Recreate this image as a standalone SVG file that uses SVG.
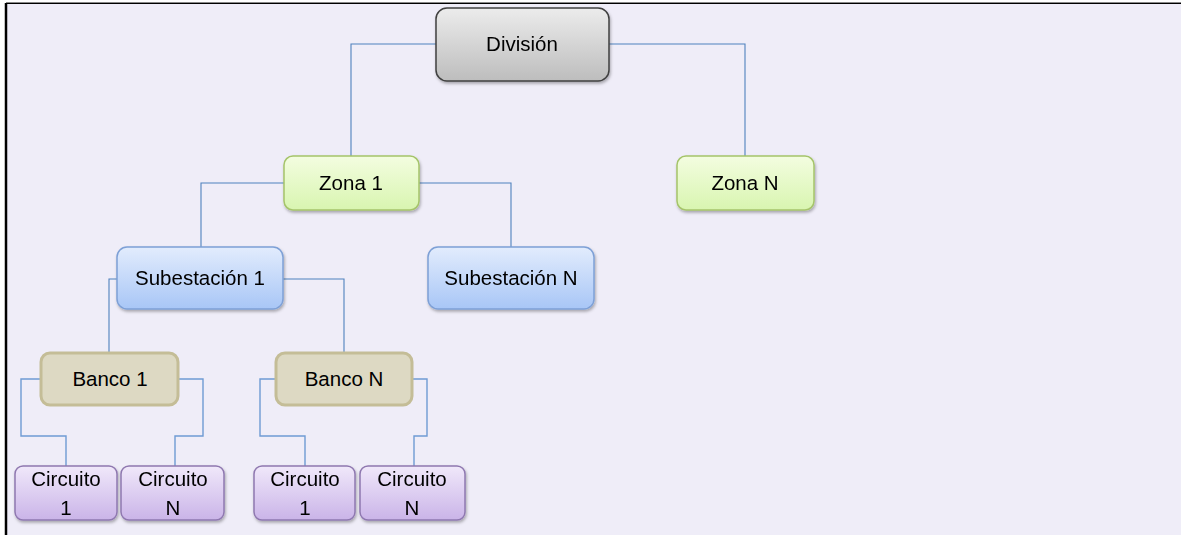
<svg xmlns="http://www.w3.org/2000/svg" width="1181" height="535" viewBox="0 0 1181 535">
  <defs>
    <linearGradient id="gGray" x1="0" y1="0" x2="0" y2="1">
      <stop offset="0" stop-color="#ececec"/>
      <stop offset="1" stop-color="#bdbdbd"/>
    </linearGradient>
    <linearGradient id="gGreen" x1="0" y1="0" x2="0" y2="1">
      <stop offset="0" stop-color="#f3fde0"/>
      <stop offset="1" stop-color="#d8f5b0"/>
    </linearGradient>
    <linearGradient id="gBlue" x1="0" y1="0" x2="0" y2="1">
      <stop offset="0" stop-color="#e2ecfd"/>
      <stop offset="1" stop-color="#a8c6f6"/>
    </linearGradient>
    <linearGradient id="gPurple" x1="0" y1="0" x2="0" y2="1">
      <stop offset="0" stop-color="#f0e8fa"/>
      <stop offset="1" stop-color="#cab4e8"/>
    </linearGradient>
    <filter id="shadow" x="-10%" y="-15%" width="125%" height="140%">
      <feDropShadow dx="1" dy="2" stdDeviation="1.5" flood-color="#000" flood-opacity="0.3"/>
    </filter>
  </defs>
  <style>
    .lbl { font-family: "Liberation Sans", Arial, sans-serif; font-size: 20.5px; fill: #000; text-anchor: middle; }
    .conn { fill: none; stroke: #4f81bd; stroke-width: 1.1; }
    .conn2 { fill: none; stroke: #6f9bd3; stroke-width: 1.4; }
    .gray { fill: url(#gGray); stroke: #404040; stroke-width: 1.5; }
    .green { fill: url(#gGreen); stroke: #a5c46a; stroke-width: 1.5; }
    .blue { fill: url(#gBlue); stroke: #7ea0d6; stroke-width: 1.5; }
    .tan { fill: #ddd9c3; stroke: #c4bd97; stroke-width: 3; }
    .purple { fill: url(#gPurple); stroke: #8f78b0; stroke-width: 1.5; }
  </style>

  <!-- page background and frame -->
  <rect x="0" y="0" width="1181" height="535" fill="#ffffff"/>
  <rect x="6" y="3" width="1175" height="532" fill="#efedf8"/>
  <line x1="6" y1="2.5" x2="1181" y2="2.5" stroke="#888" stroke-width="1"/>
  <line x1="6" y1="3.5" x2="1181" y2="3.5" stroke="#000" stroke-width="1.2"/>
  <line x1="6" y1="3" x2="6" y2="535" stroke="#000" stroke-width="2.5"/>

  <!-- connectors -->
  <g id="connectors">
    <polyline class="conn" points="436,44 351,44 351,156"/>
    <polyline class="conn" points="609,44 745,44 745,156"/>
    <polyline class="conn" points="284,183 201,183 201,247"/>
    <polyline class="conn" points="419,183 511,183 511,247"/>
    <polyline class="conn" points="117,279 109,279 109,353"/>
    <polyline class="conn" points="283,279 344,279 344,353"/>
    <polyline class="conn2" points="41,379 21,379 21,436 66,436 66,466"/>
    <polyline class="conn2" points="178,379 203,379 203,436 175,436 175,466"/>
    <polyline class="conn2" points="276,379 260,379 260,436 305,436 305,466"/>
    <polyline class="conn2" points="412,379 427,379 427,436 414,436 414,466"/>
  </g>

  <!-- nodes -->
  <g id="division" filter="url(#shadow)">
    <rect class="gray" x="436" y="8" width="173" height="73" rx="11"/>
    <text class="lbl" x="522" y="51">División</text>
  </g>
  <g id="zona1" filter="url(#shadow)">
    <rect class="green" x="284" y="156" width="135" height="54" rx="9"/>
    <text class="lbl" x="351" y="190">Zona 1</text>
  </g>
  <g id="zonaN" filter="url(#shadow)">
    <rect class="green" x="677" y="156" width="137" height="54" rx="9"/>
    <text class="lbl" x="745" y="190">Zona N</text>
  </g>
  <g id="subestacion1" filter="url(#shadow)">
    <rect class="blue" x="117" y="247" width="166" height="62" rx="10"/>
    <text class="lbl" x="200" y="285">Subestación 1</text>
  </g>
  <g id="subestacionN" filter="url(#shadow)">
    <rect class="blue" x="428" y="247" width="166" height="62" rx="10"/>
    <text class="lbl" x="511" y="285">Subestación N</text>
  </g>
  <g id="banco1">
    <rect class="tan" x="41" y="353" width="137" height="52" rx="9"/>
    <text class="lbl" x="110" y="386">Banco 1</text>
  </g>
  <g id="bancoN">
    <rect class="tan" x="276" y="353" width="136" height="52" rx="9"/>
    <text class="lbl" x="344" y="386">Banco N</text>
  </g>
  <g id="circuito1a" filter="url(#shadow)">
    <rect class="purple" x="15" y="466" width="102" height="54" rx="8"/>
    <text class="lbl" x="66" y="486">Circuito</text>
    <text class="lbl" x="66" y="515">1</text>
  </g>
  <g id="circuitoNa" filter="url(#shadow)">
    <rect class="purple" x="121" y="466" width="103" height="54" rx="8"/>
    <text class="lbl" x="173" y="486">Circuito</text>
    <text class="lbl" x="173" y="515">N</text>
  </g>
  <g id="circuito1b" filter="url(#shadow)">
    <rect class="purple" x="254" y="466" width="101" height="54" rx="8"/>
    <text class="lbl" x="305" y="486">Circuito</text>
    <text class="lbl" x="305" y="515">1</text>
  </g>
  <g id="circuitoNb" filter="url(#shadow)">
    <rect class="purple" x="360" y="466" width="105" height="54" rx="8"/>
    <text class="lbl" x="412" y="486">Circuito</text>
    <text class="lbl" x="412" y="515">N</text>
  </g>
</svg>
